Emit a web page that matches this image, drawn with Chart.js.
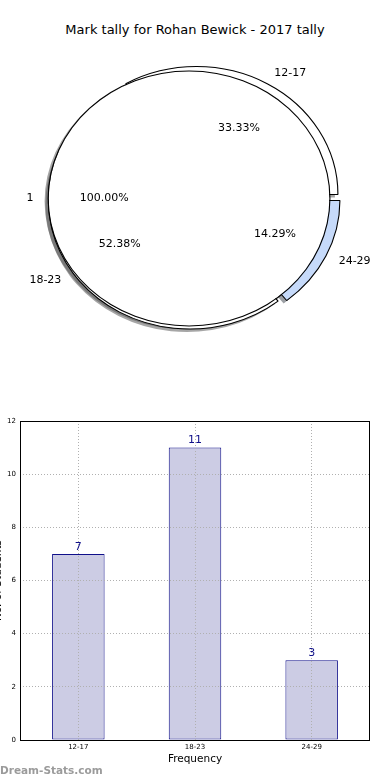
<!DOCTYPE html>
<html>
<head>
<meta charset="utf-8">
<script src="https://cdn.jsdelivr.net/npm/chart.js@4.4.0/dist/chart.umd.min.js"></script>
<style>
  html, body { margin: 0; padding: 0; background: #fff; }
  body { width: 390px; height: 780px; position: relative; overflow: hidden; font-family: 'DejaVu Sans', sans-serif; }
  canvas { position: absolute; }
  #title { position: absolute; top: 22px; left: 0; width: 390px; text-align: center; font-size: 13px; line-height: 16px; color: #000; }
  #mark { position: absolute; left: 0; top: 763px; font-size: 10.5px; line-height: 14px; font-weight: bold; color: #9b9b9b; }
</style>
</head>
<body>
<div id="title">Mark tally for Rohan Bewick - 2017 tally</div>
<canvas id="shadowOuter" width="390" height="360" style="left:-3px;top:3px"></canvas>
<canvas id="shadowInner" width="390" height="360" style="left:-3px;top:3px"></canvas>
<canvas id="pieOuter" width="390" height="360" style="left:0;top:0"></canvas>
<canvas id="pieInner" width="390" height="360" style="left:0;top:0"></canvas>
<canvas id="bars" width="402" height="375" style="left:-12px;top:405px"></canvas>
<div id="mark">Dream-Stats.com</div>

<script>
// data
const categories = ['12-17', '18-23', '24-29'];
const tally = [7, 11, 3];
const sliceColors = ['#ffffff', '#ffffff', '#c6dafa'];
const shadowColors = ['rgba(77,77,77,0.5)', 'rgba(77,77,77,0.5)', 'rgba(59,65,75,0.5)'];
const innerLabels = ['1'];
const innerValues = [1];
const yMax = 12;
const yStep = 2;

Chart.defaults.font.family = '"DejaVu Sans", sans-serif';

const STRETCH = 1.105;   // pie axes are not equal in the original
const EXPLODE = 4.5;     // px, every wedge is pushed out a bit
const RADIUS = 128;

// matplotlib starts at 3 o'clock and goes counter-clockwise, chart.js goes clockwise
const rev = arr => arr.slice().reverse();

const squash = {
  id: 'squash',
  beforeDatasetsDraw(chart) {
    const arc = chart.getDatasetMeta(0).data[0];
    const ctx = chart.ctx;
    ctx.save();
    ctx.translate(arc.x, arc.y);
    ctx.scale(STRETCH, 1);
    ctx.translate(-arc.x, -arc.y);
  },
  afterDatasetsDraw(chart) {
    chart.ctx.restore();
  }
};

// chart.js' own arc offset also grows big slices, so shift the wedges ourselves
const explode = {
  id: 'explode',
  beforeDatasetDraw(chart, args) {
    args.meta.data.forEach(arc => {
      const mid = (arc.startAngle + arc.endAngle) / 2;
      arc._home = [arc.x, arc.y];
      arc.x += Math.cos(mid) * EXPLODE;
      arc.y += Math.sin(mid) * EXPLODE;
    });
  },
  afterDatasetDraw(chart, args) {
    args.meta.data.forEach(arc => {
      [arc.x, arc.y] = arc._home;
    });
  }
};

const pies = [];

function labelPie(ctx, p) {
  const values = p.chart.data.datasets[p.dataset].data;
  const total = values.reduce((a, b) => a + b, 0);
  p.chart.getDatasetMeta(p.dataset).data.forEach((arc, i) => {
    const mid = (arc.startAngle + arc.endAngle) / 2;
    const c = Math.cos(mid), s = Math.sin(mid);
    const at = d => [arc.x + STRETCH * c * (RADIUS * d + EXPLODE), arc.y + s * (RADIUS * d + EXPLODE)];
    let [x, y] = at(1.1);
    ctx.textAlign = c > 0 ? 'left' : 'right';
    ctx.fillText(p.chart.data.labels[i], x, y);
    [x, y] = at(0.6);
    ctx.textAlign = 'center';
    ctx.fillText((values[i] / total * 100).toFixed(2) + '%', x, y);
  });
}

// texts sit above both pies, so the top chart writes them all
const pieText = {
  id: 'pieText',
  afterDraw(chart, args, opts) {
    if (!opts.show) return;
    const ctx = chart.ctx;
    ctx.save();
    ctx.font = '11px "DejaVu Sans"';
    ctx.fillStyle = '#000';
    ctx.textBaseline = 'middle';
    [...pies, { chart, dataset: opts.dataset }].forEach(p => labelPie(ctx, p));
    ctx.restore();
  }
};

function makePie(id, labels, datasets, o = {}) {
  return new Chart(document.getElementById(id), {
    type: 'pie',
    data: { labels, datasets },
    options: {
      responsive: false,
      animation: false,
      events: [],
      rotation: 90,
      radius: RADIUS,
      layout: { padding: { left: 0, right: 2, top: 37, bottom: 0 } },
      plugins: {
        legend: { display: false },
        tooltip: { enabled: false },
        pieText: { show: !!o.text, dataset: o.dataset || 0 }
      }
    },
    plugins: [squash, explode, pieText]
  });
}

makePie('shadowOuter', rev(categories), [
  { data: rev(tally), backgroundColor: rev(shadowColors), borderWidth: 0 }
]);
makePie('shadowInner', innerLabels, [
  { data: innerValues, backgroundColor: 'rgba(77,77,77,0.5)', borderWidth: 0 }
]);
const outer = makePie('pieOuter', rev(categories), [
  { data: rev(tally), backgroundColor: rev(sliceColors), borderColor: '#000', borderWidth: 1 }
]);
pies.push({ chart: outer, dataset: 0 });
// a thin black ring + white disc: a single 100% slice would get a radial edge line
makePie('pieInner', innerLabels, [
  { data: innerValues, backgroundColor: '#000', borderWidth: 0, weight: 1 },
  { data: innerValues, backgroundColor: '#ffffff', borderWidth: 0, weight: RADIUS - 1 }
], { text: true, dataset: 1 });

// bar chart
const frame = {
  id: 'frame',
  afterDraw(chart) {
    const { ctx, chartArea: a } = chart;
    ctx.save();
    ctx.strokeStyle = '#000';
    ctx.lineWidth = 1;
    ctx.strokeRect(Math.round(a.left) + 0.5, Math.round(a.top) + 0.5, Math.round(a.right - a.left) - 1, Math.round(a.bottom - a.top));
    ctx.restore();
  }
};

const barValues = {
  id: 'barValues',
  afterDraw(chart) {
    const ctx = chart.ctx;
    const values = chart.data.datasets[0].data;
    ctx.save();
    ctx.font = '11px "DejaVu Sans"';
    ctx.fillStyle = '#10108a';
    ctx.textAlign = 'center';
    ctx.textBaseline = 'middle';
    chart.getDatasetMeta(0).data.forEach((bar, i) => {
      ctx.fillText(String(values[i]), bar.x, bar.y - 7);
    });
    ctx.restore();
  }
};

const gridStyle = { color: '#b0b0b0', lineWidth: 1, drawTicks: false, z: 1 };

new Chart(document.getElementById('bars'), {
  type: 'bar',
  data: {
    labels: categories,
    datasets: [{
      data: tally,
      backgroundColor: '#ccccE4',
      borderColor: '#10108a',
      borderWidth: 1,
      borderSkipped: false,
      barPercentage: 0.45,
      categoryPercentage: 1
    }]
  },
  options: {
    responsive: false,
    animation: false,
    events: [],
    layout: { padding: { top: 16, right: 20, bottom: 0, left: 0 } },
    plugins: { legend: { display: false }, tooltip: { enabled: false } },
    scales: {
      x: {
        grid: { ...gridStyle, offset: false },
        border: { display: false, dash: [1, 2] },
        ticks: { font: { size: 7 }, color: '#000', padding: 3, maxRotation: 0 },
        title: { display: true, text: 'Frequency', font: { size: 10.5 }, color: '#000', padding: { top: 0, bottom: 14 } },
        afterFit: s => { s.height = 40; }
      },
      y: {
        min: 0,
        max: yMax,
        grid: gridStyle,
        border: { display: false, dash: [1, 2] },
        ticks: { stepSize: yStep, font: { size: 7 }, color: '#000', padding: 4 },
        title: { display: true, text: 'No. of Students', font: { size: 10.5 }, color: '#000', padding: { top: 4, bottom: 4 } },
        afterFit: s => { s.width = 32; }
      }
    }
  },
  plugins: [frame, barValues]
});
</script>
</body>
</html>
